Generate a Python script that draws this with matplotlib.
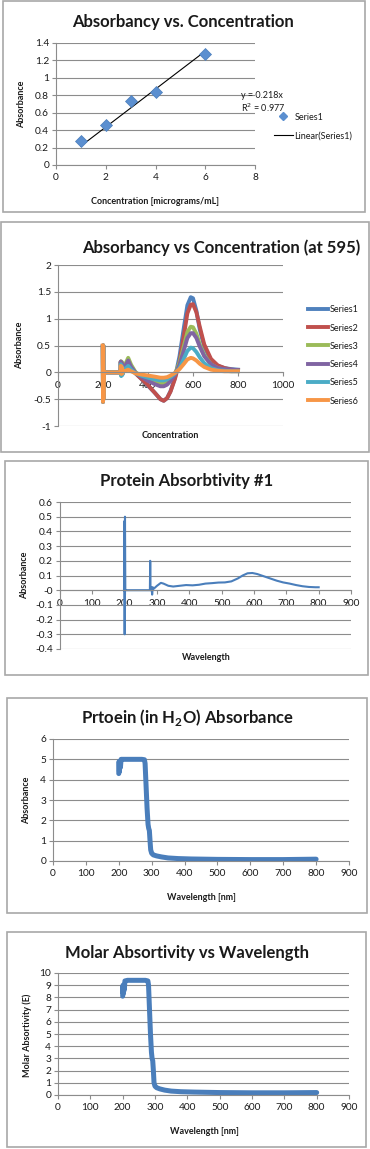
import matplotlib

matplotlib.use("Agg")

import matplotlib.pyplot as plt
import numpy as np
from matplotlib.lines import Line2D
from matplotlib.patches import Rectangle

plt.rcParams["font.family"] = ["Lato", "DejaVu Sans"]

W, H = 370, 1149

# panel 1: standard curve
conc = np.array([1, 2, 3, 4, 6])
absorb = np.array([0.28, 0.46, 0.73, 0.84, 1.27])

# panel 2: six spectra
w2 = [199, 200, 201, 202, 203, 240, 278, 279, 281, 283, 286, 290, 300, 312, 325,
      345, 370, 400, 430, 455, 470, 485, 500, 520, 540, 560, 575, 590, 600, 615,
      630, 650, 680, 710, 740, 770, 800]
s1 = [0.48, -0.55, 0.5, -0.5, 0, 0, 0, 0.2, -0.05, 0.18, -0.03, 0.05, 0.12, 0.2, 0.1,
      -0.02, -0.12, -0.25, -0.38, -0.5, -0.53, -0.48, -0.35, -0.1, 0.3, 0.85,
      1.25, 1.4, 1.38, 1.15, 0.8, 0.48, 0.22, 0.12, 0.08, 0.06, 0.05]
s2 = [0.48, -0.55, 0.5, -0.5, 0, 0, 0, 0.2, -0.05, 0.18, -0.03, 0.05, 0.12, 0.2, 0.1,
      -0.02, -0.12, -0.24, -0.38, -0.5, -0.53, -0.48, -0.36, -0.12, 0.2, 0.7,
      1.1, 1.26, 1.27, 1.12, 0.85, 0.52, 0.25, 0.13, 0.08, 0.05, 0.04]
s3 = [0.48, -0.55, 0.5, -0.5, 0, 0, 0, 0.2, -0.05, 0.2, -0.03, 0.06, 0.16, 0.27, 0.14,
      0.0, -0.07, -0.13, -0.18, -0.2, -0.2, -0.18, -0.13, -0.03, 0.18, 0.5,
      0.75, 0.85, 0.84, 0.72, 0.52, 0.32, 0.15, 0.08, 0.05, 0.04, 0.03]
s4 = [0.48, -0.55, 0.5, -0.5, 0, 0, 0, 0.2, -0.05, 0.18, -0.03, 0.05, 0.13, 0.22, 0.1,
      -0.01, -0.08, -0.16, -0.22, -0.26, -0.26, -0.23, -0.16, -0.04, 0.14, 0.42,
      0.64, 0.73, 0.73, 0.64, 0.48, 0.3, 0.15, 0.08, 0.06, 0.05, 0.04]
s5 = [0.48, -0.55, 0.5, -0.5, 0, 0, 0, 0.15, -0.07, 0.12, -0.05, 0.03, 0.07, 0.12, 0.05,
      -0.02, -0.06, -0.1, -0.13, -0.15, -0.15, -0.13, -0.09, -0.02, 0.08, 0.26,
      0.4, 0.46, 0.45, 0.38, 0.28, 0.17, 0.08, 0.04, 0.03, 0.02, 0.02]
s6 = [0.5, -0.55, 0.48, -0.5, 0, 0, 0, 0.12, -0.03, 0.1, -0.02, 0.02, 0.03, 0.05, 0.02,
      -0.02, -0.04, -0.06, -0.08, -0.1, -0.1, -0.09, -0.06, -0.01, 0.06, 0.16,
      0.24, 0.27, 0.26, 0.22, 0.16, 0.1, 0.05, 0.03, 0.02, 0.02, 0.02]
series2 = [s1, s2, s3, s4, s5, s6]
names2 = ["Series1", "Series2", "Series3", "Series4", "Series5", "Series6"]
colors2 = ["#4F81BD", "#C0504D", "#9BBB59", "#8064A2", "#4BACC6", "#F79646"]

# panel 3: protein absorbtivity
w3 = [198, 199, 200, 201, 202, 204, 250, 278, 279, 280, 283, 285, 287, 290, 300,
      312, 320, 335, 350, 370, 390, 410, 430, 450, 470, 490, 510, 530, 550, 565,
      580, 595, 610, 630, 650, 670, 690, 710, 730, 750, 770, 790, 800]
a3 = [0, 0.47, -0.3, 0.5, 0, 0, 0, 0, 0.2, 0, 0.02, -0.03, 0.02, 0.01, 0.03,
      0.05, 0.045, 0.03, 0.025, 0.03, 0.035, 0.033, 0.037, 0.045, 0.048, 0.052,
      0.053, 0.06, 0.08, 0.1, 0.115, 0.117, 0.11, 0.095, 0.08, 0.065, 0.053,
      0.045, 0.035, 0.027, 0.022, 0.02, 0.02]

# panel 4: protein in water
w4 = [200, 201, 202, 203, 205, 207, 215, 240, 270, 278, 280, 283, 286, 289, 291,
      293, 295, 297, 300, 305, 315, 330, 350, 380, 420, 500, 600, 700, 800]
a4 = [4.3, 4.9, 4.4, 4.8, 4.6, 5.0, 5.0, 5.0, 5.0, 4.98, 4.8, 3.7, 2.6, 1.8, 1.6,
      1.5, 1.0, 0.55, 0.38, 0.3, 0.25, 0.2, 0.15, 0.12, 0.1, 0.08, 0.07, 0.07, 0.09]

# panel 5: molar absortivity
w5 = w4
a5 = [8.1, 9.0, 8.3, 8.9, 8.6, 9.35, 9.4, 9.4, 9.4, 9.35, 9.0, 7.0, 5.0, 3.5, 3.0,
      2.8, 2.0, 1.0, 0.72, 0.6, 0.5, 0.4, 0.32, 0.27, 0.24, 0.2, 0.18, 0.18, 0.2]

GRID = "#8c8c8c"
BOX = "#a8a8a8"
TXT = "#1a1a1a"
TITLE_SIZE = 12


def px_axes(fig, left, top, right, bottom):
    return fig.add_axes([left / W, 1 - bottom / H, (right - left) / W, (bottom - top) / H])


def fx(x):
    return x / W


def fy(y):
    return 1 - y / H


def add_box(fig, left, top, right, bottom):
    fig.add_artist(Rectangle((fx(left), fy(bottom)), (right - left) / W, (bottom - top) / H,
                             transform=fig.transFigure, fill=False, edgecolor=BOX, linewidth=1.2))


def style_axes(ax, yticks, xticks, zero_axis=False):
    ax.set_yticks(yticks)
    ax.set_xticks(xticks)
    ax.set_ylim(yticks[0], yticks[-1])
    ax.set_xlim(xticks[0], xticks[-1])
    ax.yaxis.grid(True, color=GRID, linewidth=0.8)
    ax.set_axisbelow(True)
    for side in ("top", "right"):
        ax.spines[side].set_visible(False)
    ax.spines["left"].set_color(GRID)
    ax.spines["bottom"].set_color(GRID)
    ax.spines["left"].set_linewidth(0.8)
    ax.spines["bottom"].set_linewidth(0.8)
    if zero_axis:
        ax.spines["bottom"].set_position(("data", 0))
    ax.tick_params(axis="both", colors=GRID, labelcolor=TXT, labelsize=7.3, length=3, width=0.8, pad=2)
    ax.tick_params(axis="x", pad=3)
    ax.set_facecolor("none")


def fmt(v):
    return f"{v:g}"


fig = plt.figure(figsize=(W / 100, H / 100), dpi=100)

# ---------- panel 1
add_box(fig, 3, 1, 365, 212)
ax = px_axes(fig, 56, 43, 255, 165)
style_axes(ax, np.round(np.arange(0, 1.41, 0.2), 1), [0, 2, 4, 6, 8])
ax.set_yticklabels([fmt(v) for v in ax.get_yticks()])
slope = np.sum(conc * absorb) / np.sum(conc * conc)
ax.plot([conc[0], conc[-1]], [slope * conc[0], slope * conc[-1]], color="black", linewidth=0.8)
ax.plot(conc, absorb, linestyle="none", marker="D", markersize=6.5, color="#5B8FD0",
        markeredgecolor="#4A7EBB", markeredgewidth=0.5)
fig.text(fx(183), fy(22), "Absorbancy vs. Concentration", ha="center", va="center",
         fontsize=TITLE_SIZE, fontweight="bold", color=TXT)
fig.text(fx(22), fy(104), "Absorbance", ha="center", va="center", rotation=90,
         fontsize=6.5, fontweight="bold", color=TXT)
fig.text(fx(155), fy(201), "Concentration [micrograms/mL]", ha="center", va="center",
         fontsize=6.5, fontweight="bold", color=TXT)
fig.text(fx(241), fy(96), f"y = {slope:.3f}x", ha="left", va="center", fontsize=6.5, color=TXT)
fig.text(fx(241), fy(108), "R$^2$ = 0.977", ha="left", va="center", fontsize=6.5, color=TXT)
fig.add_artist(Line2D([fx(283)], [fy(116)], marker="D", markersize=4.5, color="#5B8FD0",
                      transform=fig.transFigure))
fig.text(fx(295), fy(117), "Series1", ha="left", va="center", fontsize=6.5, color=TXT)
fig.add_artist(Line2D([fx(274), fx(293)], [fy(135), fy(135)], color="black", linewidth=0.8,
                      transform=fig.transFigure))
fig.text(fx(294), fy(136), "Linear(Series1)", ha="left", va="center", fontsize=6.5, color=TXT)

# ---------- panel 2
add_box(fig, 1, 222, 369, 452)
ax = px_axes(fig, 58, 265, 283, 426)
style_axes(ax, [-1, -0.5, 0, 0.5, 1, 1.5, 2], [0, 200, 400, 600, 800, 1000], zero_axis=True)
ax.set_yticklabels([fmt(v) for v in ax.get_yticks()])
for vals, c in zip(series2, colors2):
    ax.plot(w2, vals, color=c, linewidth=2.8, solid_joinstyle="round")
fig.text(fx(221), fy(248), "Absorbancy vs Concentration (at 595)", ha="center", va="center",
         fontsize=TITLE_SIZE, fontweight="bold", color=TXT)
fig.text(fx(20), fy(345), "Absorbance", ha="center", va="center", rotation=90,
         fontsize=6.5, fontweight="bold", color=TXT)
fig.text(fx(170), fy(436), "Concentration", ha="center", va="center",
         fontsize=6.5, fontweight="bold", color=TXT)
for i, (name, c) in enumerate(zip(names2, colors2)):
    yy = 309 + i * 18.2
    fig.add_artist(Line2D([fx(308), fx(328)], [fy(yy), fy(yy)], color=c, linewidth=2.8,
                          transform=fig.transFigure))
    fig.text(fx(330), fy(yy + 1), name, ha="left", va="center", fontsize=6.5, color=TXT)

# ---------- panel 3
add_box(fig, 5, 461, 368, 675)
ax = px_axes(fig, 60, 502, 351, 649)
style_axes(ax, np.round(np.arange(-0.4, 0.61, 0.1), 1), list(range(0, 901, 100)), zero_axis=True)
ax.set_yticklabels([fmt(v) for v in ax.get_yticks()])
ax.plot(w3, a3, color="#4A7EBB", linewidth=1.5)
fig.text(fx(187), fy(481), "Protein Absorbtivity #1", ha="center", va="center",
         fontsize=TITLE_SIZE, fontweight="bold", color=TXT)
fig.text(fx(25), fy(575), "Absorbance", ha="center", va="center", rotation=90,
         fontsize=6.5, fontweight="bold", color=TXT)
fig.text(fx(206), fy(658), "Wavelength", ha="center", va="center",
         fontsize=6.5, fontweight="bold", color=TXT)

# ---------- panel 4
add_box(fig, 7, 698, 367, 913)
ax = px_axes(fig, 53, 739, 349, 861)
style_axes(ax, list(range(0, 7)), list(range(0, 901, 100)))
ax.plot(w4, a4, color="#4A7EBB", linewidth=3.6, solid_joinstyle="round", solid_capstyle="round")
fig.text(fx(187), fy(718), "Prtoein (in H$_\\mathregular{2}$O) Absorbance", ha="center", va="center",
         fontsize=TITLE_SIZE, fontweight="bold", color=TXT)
fig.text(fx(27), fy(800), "Absorbance", ha="center", va="center", rotation=90,
         fontsize=6.5, fontweight="bold", color=TXT)
fig.text(fx(201), fy(897), "Wavelength [nm]", ha="center", va="center",
         fontsize=6.5, fontweight="bold", color=TXT)

# ---------- panel 5
add_box(fig, 7, 932, 366, 1147)
ax = px_axes(fig, 58, 973, 349, 1095)
style_axes(ax, list(range(0, 11)), list(range(0, 901, 100)))
ax.plot(w5, a5, color="#4A7EBB", linewidth=3.6, solid_joinstyle="round", solid_capstyle="round")
fig.text(fx(187), fy(953), "Molar Absortivity vs Wavelength", ha="center", va="center",
         fontsize=TITLE_SIZE, fontweight="bold", color=TXT)
fig.text(fx(27), fy(1035), "Molar Absortivity (E)", ha="center", va="center", rotation=90,
         fontsize=6.5, fontweight="bold", color=TXT)
fig.text(fx(204), fy(1131), "Wavelength [nm]", ha="center", va="center",
         fontsize=6.5, fontweight="bold", color=TXT)

fig.savefig("out.png", dpi=100)
